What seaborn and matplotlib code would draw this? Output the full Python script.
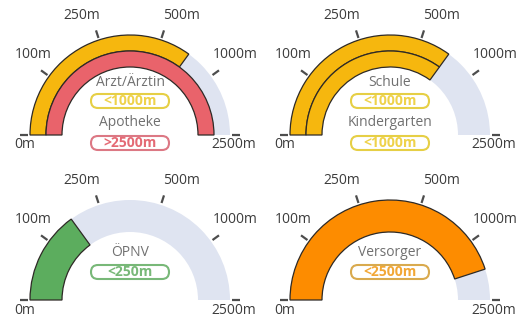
import numpy as np
import pandas as pd
import matplotlib
matplotlib.use("Agg")
import matplotlib.pyplot as plt
from matplotlib.patches import FancyBboxPatch
import seaborn as sns

sns.set_theme(style="white")
plt.rcParams["font.family"] = ["Open Sans", "DejaVu Sans"]

# Gauge scale: six distance marks, evenly spaced over the half circle
scale_labels = ["0m", "100m", "250m", "500m", "1000m", "2500m"]

# One gauge per facility group (outer ring first)
gauge_names = [
    ["Arzt/Ärztin", "Apotheke"],
    ["Schule", "Kindergarten"],
    ["ÖPNV"],
    ["Versorger"],
]
# Distance class of each facility
gauge_badges = [
    ["<1000m", ">2500m"],
    ["<1000m", "<1000m"],
    ["<250m"],
    ["<2500m"],
]
ring_colors = [
    ["#f6b70e", "#e9636b"],
    ["#f6b70e", "#f6b70e"],
    ["#5cad5e"],
    ["#fd8c00"],
]
badge_edge_colors = [
    ["#e6cf45", "#dc7884"],
    ["#e6cf45", "#e6cf45"],
    ["#78b878"],
    ["#d9aa4e"],
]
badge_text_colors = [
    ["#efd24a", "#e46a74"],
    ["#efd24a", "#efd24a"],
    ["#78b878"],
    ["#f2a735"],
]

TRACK = "#dfe4f1"
EDGE = "#2e2a26"
TICK = "#4d4d4d"
LABEL = "#3c3c3c"
TITLE = "#707070"

W, H, DPI = 519, 324, 100
CENTERS = [(130, 135), (390, 135), (130, 300), (390, 300)]
R_OUT, R_IN, R_MAX = 100, 68, 120
N_STEPS = len(scale_labels) - 1


def badge_level(badge):
    """Fill level in scale steps: '<X' ends mid-step below X, '>X' fills to X."""
    idx = scale_labels.index(badge[1:])
    return idx - 0.5 if badge[0] == "<" else float(idx)


def to_theta(level):
    return level / N_STEPS * np.pi


fig = plt.figure(figsize=(W / DPI, H / DPI), dpi=DPI)
fig.patch.set_facecolor("white")

label_ha = ["center", "right", "right", "left", "left", "center"]
label_off = [(1, -10), (7, 18), (3, 19), (0, 19), (-3, 18), (-2, -10)]

gauge_axes = []
for i, (cx, cy) in enumerate(CENTERS):
    ax = fig.add_axes(
        [(cx - R_MAX) / W, (H - cy - R_MAX) / H, 2 * R_MAX / W, 2 * R_MAX / H],
        projection="polar",
    )
    ax.set_theta_zero_location("W")
    ax.set_theta_direction(-1)

    names = gauge_names[i]
    n = len(names)
    thick = (R_OUT - R_IN) / n

    # full-scale track
    track = pd.DataFrame({"theta": [to_theta(N_STEPS)], "ring": [(R_OUT + R_IN) / 2]})
    sns.barplot(data=track, x="theta", y="ring", orient="y", native_scale=True,
                width=R_OUT - R_IN, color=TRACK, saturation=1, linewidth=0,
                errorbar=None, ax=ax)

    # facility rings
    df = pd.DataFrame({
        "name": names,
        "theta": [to_theta(badge_level(b)) for b in gauge_badges[i]],
        "ring": [R_OUT - thick * (k + 0.5) for k in range(n)],
    })
    native = thick if n > 1 else 1
    sns.barplot(data=df, x="theta", y="ring", hue="name", orient="y",
                native_scale=True, dodge=False, width=thick / native,
                palette=dict(zip(names, ring_colors[i])), saturation=1,
                edgecolor=EDGE, linewidth=0.9, errorbar=None, legend=False, ax=ax)

    # scale ticks and labels
    for k, lab in enumerate(scale_labels):
        th = to_theta(k)
        ax.plot([th, th], [102, 110], color=TICK, lw=1.6,
                solid_capstyle="butt", clip_on=False)
        ax.annotate(lab, xy=(th, 106), xytext=label_off[k],
                    textcoords="offset pixels", ha=label_ha[k], va="center",
                    fontsize=10, color=LABEL, annotation_clip=False)

    ax.set_rlim(0, R_MAX)
    ax.set_axis_off()
    gauge_axes.append(ax)

# centre captions with distance badges, in pixel coordinates
ov = fig.add_axes([0, 0, 1, 1])
ov.set_xlim(0, W)
ov.set_ylim(H, 0)
ov.set_axis_off()

for i, (cx, cy) in enumerate(CENTERS):
    names = gauge_names[i]
    if len(names) == 2:
        title_dy, badge_dy = [-53, -13], [-34, 8]
    else:
        title_dy, badge_dy = [-48], [-28]
    for k, name in enumerate(names):
        ov.text(cx, cy + title_dy[k], name, ha="center", va="center",
                fontsize=10, color=TITLE)
        by = cy + badge_dy[k]
        ov.add_patch(FancyBboxPatch((cx - 39, by - 7), 78, 14,
                                    boxstyle="round,pad=0,rounding_size=7",
                                    fc="white", ec=badge_edge_colors[i][k], lw=1.5))
        ov.text(cx, by, gauge_badges[i][k], ha="center", va="center",
                fontsize=10, fontweight="bold", color=badge_text_colors[i][k])

fig.savefig("out.png", dpi=DPI)
